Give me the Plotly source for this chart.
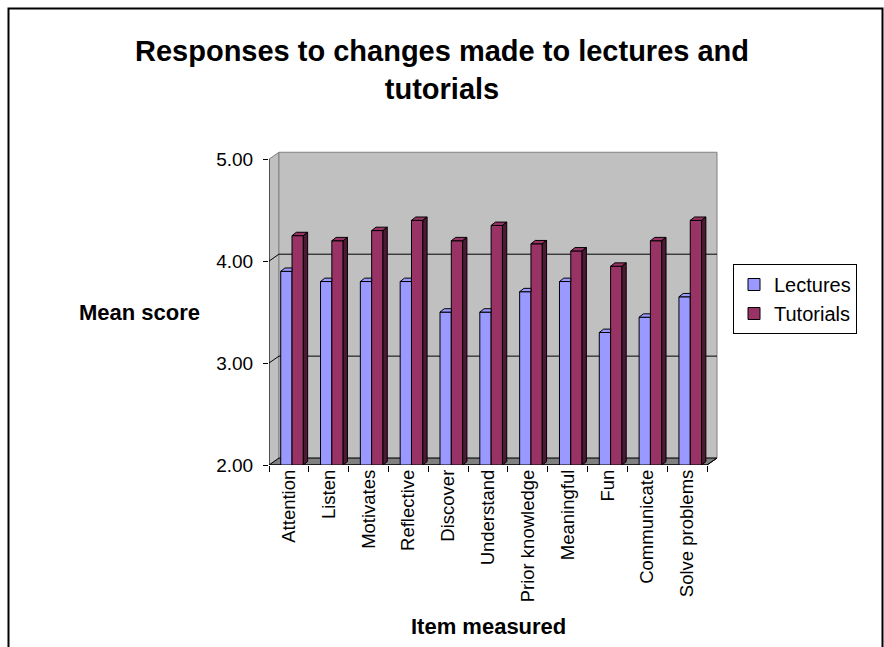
import plotly.graph_objects as go

# ---- data ----
categories = ["Attention", "Listen", "Motivates", "Reflective", "Discover",
              "Understand", "Prior knowledge", "Meaningful", "Fun",
              "Communicate", "Solve problems"]
lectures = [3.90, 3.80, 3.80, 3.80, 3.50, 3.50, 3.70, 3.80, 3.30, 3.45, 3.65]
tutorials = [4.25, 4.20, 4.30, 4.40, 4.20, 4.35, 4.17, 4.10, 3.95, 4.20, 4.40]
y_ticks = [2, 3, 4, 5]

# ---- layout geometry ----
W, H = 884, 647
L, R, T, B = 269, 165, 149, 182
PW, PH = W - L - R, H - T - B
X_RANGE = [-0.5, 10.8]
Y_RANGE = [2.0, 5.1]


def px_x(x):
    return (x - L) / PW


def px_y(y):
    return (T + PH - y) / PH


# bar placement within a category (category units)
BAR_W = 0.284
LECT_OFF = -0.206
TUT_OFF = LECT_OFF + BAR_W
# 3-D depth of bars and of the walls
DX, DY = 0.108, 0.033
WDX, WDY = 0.25, 0.068

LECT_COL, LECT_SIDE = "#9999FF", "#4C4C80"
TUT_COL, TUT_SIDE = "#993366", "#4D1933"
WALL, WALL_EDGE, FLOOR = "#C0C0C0", "#808080", "#808080"

fig = go.Figure()
fig.add_trace(go.Bar(name="Lectures", x=categories, y=lectures,
                     width=BAR_W, offset=LECT_OFF,
                     marker=dict(color=LECT_COL, line=dict(color="black", width=1))))
fig.add_trace(go.Bar(name="Tutorials", x=categories, y=tutorials,
                     width=BAR_W, offset=TUT_OFF,
                     marker=dict(color=TUT_COL, line=dict(color="black", width=1))))


def poly(pts):
    return "M " + " L ".join(f"{x:.4f},{y:.4f}" for x, y in pts) + " Z"


shapes = []
y0 = Y_RANGE[0]
x_lo, x_hi = -0.5, len(categories) - 0.5

# left side wall
shapes.append(dict(type="path", xref="x", yref="y", layer="below",
                   path=poly([(x_lo, y0), (x_lo, 5), (x_lo + WDX, 5 + WDY), (x_lo + WDX, y0 + WDY)]),
                   fillcolor=WALL, line=dict(color=WALL_EDGE, width=1)))
# back wall
shapes.append(dict(type="rect", xref="x", yref="y", layer="below",
                   x0=x_lo + WDX, x1=x_hi + WDX, y0=y0 + WDY, y1=5 + WDY,
                   fillcolor=WALL, line=dict(color=WALL_EDGE, width=1)))
# gridlines across side wall and back wall
for v in y_ticks[1:-1]:
    shapes.append(dict(type="path", xref="x", yref="y", layer="below",
                       path=f"M {x_lo},{v} L {x_lo + WDX},{v + WDY} L {x_hi + WDX},{v + WDY}",
                       line=dict(color="black", width=1)))
# floor
shapes.append(dict(type="path", xref="x", yref="y", layer="below",
                   path=poly([(x_lo, y0), (x_hi, y0), (x_hi + WDX, y0 + WDY), (x_lo + WDX, y0 + WDY)]),
                   fillcolor=FLOOR, line=dict(color="black", width=1)))

# bar tops and sides
for i, (lv, tv) in enumerate(zip(lectures, tutorials)):
    lx0, lx1 = i + LECT_OFF, i + LECT_OFF + BAR_W
    tx0, tx1 = i + TUT_OFF, i + TUT_OFF + BAR_W
    # lecture top, partly hidden by the taller tutorial bar next to it
    if tv >= lv + DY:
        pts = [(lx0, lv), (lx1, lv), (lx1, lv + DY), (lx0 + DX, lv + DY)]
    else:
        pts = [(lx0, lv), (lx1, lv), (lx1 + DX, lv + DY), (lx0 + DX, lv + DY)]
    shapes.append(dict(type="path", xref="x", yref="y", layer="above",
                       path=poly(pts), fillcolor=LECT_COL, line=dict(color="black", width=1)))
    # tutorial top and side
    shapes.append(dict(type="path", xref="x", yref="y", layer="above",
                       path=poly([(tx0, tv), (tx1, tv), (tx1 + DX, tv + DY), (tx0 + DX, tv + DY)]),
                       fillcolor=TUT_COL, line=dict(color="black", width=1)))
    shapes.append(dict(type="path", xref="x", yref="y", layer="above",
                       path=poly([(tx1, y0), (tx1, tv), (tx1 + DX, tv + DY), (tx1 + DX, y0 + DY)]),
                       fillcolor=TUT_SIDE, line=dict(color="black", width=1)))

# value axis line and category axis line
shapes.append(dict(type="line", xref="x", yref="y", layer="above",
                   x0=x_lo, x1=x_lo, y0=y0, y1=5, line=dict(color="black", width=1)))
shapes.append(dict(type="path", xref="x", yref="y", layer="above",
                   path=f"M {x_lo},{y0} L {x_hi},{y0} L {x_hi + WDX},{y0 + WDY}",
                   line=dict(color="black", width=1)))

# outer chart frame
shapes.append(dict(type="rect", xref="paper", yref="paper", layer="below",
                   x0=px_x(8.5), x1=px_x(882.5), y0=px_y(700), y1=px_y(8.5),
                   line=dict(color="black", width=2), fillcolor="rgba(0,0,0,0)"))

FONT = "Liberation Sans, Arial, sans-serif"

annotations = [
    dict(text="<b>Responses to changes made to lectures and<br>tutorials</b>",
         xref="paper", yref="paper", x=px_x(442), y=px_y(70), xanchor="center", yanchor="middle",
         showarrow=False, font=dict(family=FONT, size=29, color="black")),
    dict(text="<b>Mean score</b>", xref="paper", yref="paper",
         x=px_x(139), y=px_y(312), xanchor="center", yanchor="middle",
         showarrow=False, font=dict(family=FONT, size=22, color="black")),
    dict(text="<b>Item measured</b>", xref="paper", yref="paper",
         x=px_x(488), y=px_y(626), xanchor="center", yanchor="middle",
         showarrow=False, font=dict(family=FONT, size=22, color="black")),
]

fig.update_layout(
    width=W, height=H,
    margin=dict(l=L, r=R, t=T, b=B, pad=0),
    paper_bgcolor="white", plot_bgcolor="white",
    barmode="group",
    font=dict(family=FONT, color="black"),
    shapes=shapes, annotations=annotations,
    showlegend=True,
    legend=dict(x=px_x(733), y=px_y(264), xanchor="left", yanchor="top",
                bordercolor="black", borderwidth=1, bgcolor="white",
                font=dict(family=FONT, size=20, color="black"),
                tracegroupgap=0),
    xaxis=dict(type="category", range=X_RANGE, showgrid=False, zeroline=False,
               showline=False, ticks="outside", tickson="boundaries", ticklen=6,
               tickcolor="black", tickangle=-90,
               tickfont=dict(family=FONT, size=18.5, color="black")),
    yaxis=dict(range=Y_RANGE, tickvals=y_ticks, ticktext=[f"{v:.2f}" for v in y_ticks],
               showgrid=False, zeroline=False, showline=False, ticks="outside",
               ticklen=5, tickcolor="black", ticklabelstandoff=6,
               tickfont=dict(family=FONT, size=19, color="black")),
)

fig.write_html("out.html")
